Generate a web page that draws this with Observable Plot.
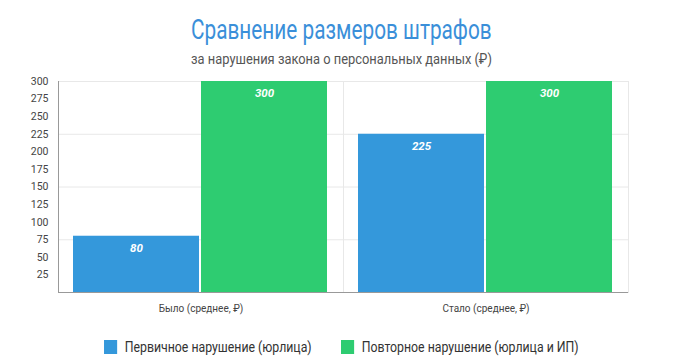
<!DOCTYPE html>
<html><head><meta charset="utf-8">
<script src="https://cdn.jsdelivr.net/npm/d3@7"></script>
<script src="https://cdn.jsdelivr.net/npm/@observablehq/plot@0.6"></script>
<style>
body{margin:0;width:683px;height:358px;position:relative;background:#fff;font-family:Roboto,"Noto Sans",sans-serif;overflow:hidden}
.line{position:absolute;left:0;width:683px;text-align:center;white-space:nowrap}
.line span{display:inline-block;transform-origin:center}
#title{top:13px;font-size:27px;color:#3a8fd9;line-height:34px}
#title span{transform:scaleX(0.77)}
#subtitle{top:49px;font-size:14px;color:#555;line-height:20px}
#subtitle span{transform:scaleX(0.92)}
#chart{position:absolute;top:72px;left:0}
#legend{position:absolute;top:338px;left:0;width:683px;display:flex;justify-content:center;gap:36px;font-size:15px;color:#333;line-height:18px;transform:scaleX(0.82);transform-origin:341px 0}
.item{display:flex;align-items:center;gap:9px}
.sw{width:16px;height:14px;display:inline-block}
</style>
</head><body>
<div id="title" class="line"><span></span></div>
<div id="subtitle" class="line"><span></span></div>
<div id="chart"></div>
<div id="legend"></div>
<script>
const titleText = "Сравнение размеров штрафов";
const subtitleText = "за нарушения закона о персональных данных (₽)";
const groups = ["Было (среднее, ₽)", "Стало (среднее, ₽)"];
const seriesNames = ["Первичное нарушение (юрлица)", "Повторное нарушение (юрлица и ИП)"];
const primaryValues = [80, 225];
const repeatValues = [300, 300];
const yTicks = [25, 50, 75, 100, 125, 150, 175, 200, 225, 250, 275, 300];
const gridTicks = [75, 150, 225, 300];
const colors = ["#3498db", "#2ecc71"];

document.querySelector("#title span").textContent = titleText;
document.querySelector("#subtitle span").textContent = subtitleText;

const data = [];
groups.forEach((g, i) => {
  data.push({group: g, series: seriesNames[0], value: primaryValues[i]});
  data.push({group: g, series: seriesNames[1], value: repeatValues[i]});
});

const font = 'Roboto,"Noto Sans",sans-serif';
const chart = Plot.plot({
  width: 683, height: 250,
  marginTop: 9, marginBottom: 30, marginLeft: 57, marginRight: 55,
  style: {fontFamily: font, fontSize: "11px", color: "#444", background: "transparent"},
  fx: {domain: groups, padding: 0, label: null, axis: null},
  x: {domain: seriesNames, paddingOuter: 0.116, paddingInner: 0.0155, axis: null},
  y: {domain: [0, 300], axis: null},
  color: {domain: seriesNames, range: colors},
  marks: [
    Plot.ruleY(gridTicks, {stroke: "#e8e8e8"}),
    Plot.frame({anchor: "right", stroke: "#e8e8e8"}),
    Plot.barY(data, {fx: "group", x: "series", y: "value", fill: "series"}),
    Plot.text(data, {fx: "group", x: "series", y: "value", text: d => String(d.value), dy: 12, fill: "white", fontStyle: "italic", fontWeight: "bold", fontSize: 11.5}),
    Plot.ruleY([0], {stroke: "#999"}),
    Plot.frame({anchor: "left", facetAnchor: "left", stroke: "#999"}),
    Plot.axisY(yTicks, {tickSize: 0, tickPadding: 10, fontSize: 10.5, label: null}),
    Plot.axisFx({anchor: "bottom", tickSize: 0, tickPadding: 12, fontSize: 10, label: null})
  ]
});
document.getElementById("chart").appendChild(chart);

const legend = document.getElementById("legend");
seriesNames.forEach((s, i) => {
  const item = document.createElement("div");
  item.className = "item";
  const sw = document.createElement("span");
  sw.className = "sw";
  sw.style.background = colors[i];
  const t = document.createElement("span");
  t.textContent = s;
  item.appendChild(sw); item.appendChild(t);
  legend.appendChild(item);
});
</script>
</body></html>
